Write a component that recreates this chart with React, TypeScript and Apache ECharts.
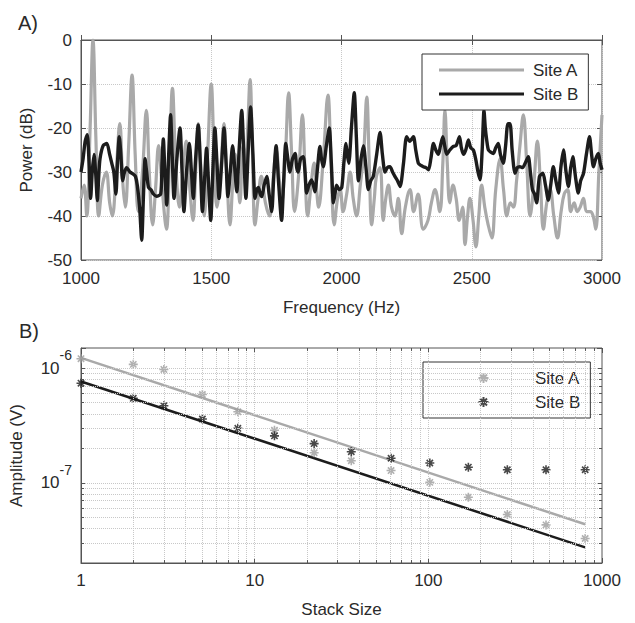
import React, { useEffect, useRef } from 'react';
import * as echarts from 'echarts';

// ---------- Panel A: power spectra ----------
const freqTicks = [1000, 1500, 2000, 2500, 3000];
const powerTicks = [0, -10, -20, -30, -40, -50];

const freqA = [
  1000, 1012, 1022, 1035, 1046, 1057, 1068, 1082, 1097, 1110,
  1120, 1135, 1149, 1160, 1170, 1183, 1196, 1208, 1220, 1236,
  1251, 1262, 1275, 1286, 1298, 1312, 1328, 1340, 1351, 1363,
  1378, 1391, 1404, 1418, 1430, 1440, 1450, 1461, 1473, 1486,
  1500, 1510, 1522, 1536, 1549, 1560, 1572, 1582, 1592, 1602,
  1610, 1622, 1632, 1640, 1649, 1658, 1668, 1680, 1692, 1708,
  1724, 1737, 1750, 1760, 1770, 1784, 1797, 1808, 1820, 1835,
  1850, 1860, 1870, 1883, 1895, 1903, 1912, 1930, 1948, 1960,
  1972, 1985, 1995, 2006, 2020, 2033, 2045, 2058, 2072, 2085,
  2097, 2106, 2116, 2126, 2134, 2148, 2160, 2170, 2180, 2192,
  2205, 2218, 2231, 2245, 2263, 2277, 2294, 2314, 2332, 2345,
  2359, 2377, 2389, 2397, 2406, 2416, 2428, 2440, 2452, 2465,
  2474, 2484, 2493, 2505, 2516, 2527, 2538, 2550, 2563, 2577,
  2592, 2609, 2622, 2635, 2648, 2660, 2672, 2685, 2698, 2711,
  2724, 2738, 2752, 2764, 2775, 2788, 2801, 2815, 2829, 2843,
  2855, 2868, 2880, 2893, 2905, 2916, 2929, 2941, 2955, 2966,
  2976, 2988, 3000,
];
const powerA = [
  -36, -33, -40, -20, 0, -22, -40, -33, -30, -37,
  -40, -30, -19, -32, -38, -24, -8, -26, -39, -30,
  -16, -30, -42, -34, -24, -34, -43, -27, -11, -27,
  -38, -30, -23, -34, -41, -30, -19, -30, -40, -26,
  -10, -24, -38, -30, -19, -31, -42, -33, -26, -32,
  -37, -24, -28, -20, -9, -25, -42, -36, -31, -37,
  -40, -32, -25, -31, -37, -27, -12, -25, -39, -31,
  -17, -30, -40, -33, -28, -33, -38, -27, -12.5, -28,
  -42, -36, -34, -39, -35, -30, -36, -40, -33, -26,
  -13, -27, -42, -36, -31, -29, -41, -36, -33, -38,
  -40, -36, -44, -38, -34, -39, -35, -43, -41, -37,
  -34, -39, -28, -16, -28, -37, -33, -36, -41, -38,
  -46.5, -40, -36, -41, -47, -40, -33, -38, -42, -45,
  -34, -27, -34, -40, -37, -38, -32, -24, -17, -28,
  -40, -33, -23, -33, -43, -37, -34, -40, -45, -39,
  -35, -34, -39, -37, -39, -38, -36, -39, -39, -40,
  -43, -30, -17,
];

const freqB = [
  1000, 1008, 1016, 1024, 1031, 1037, 1043, 1050, 1056, 1063,
  1068, 1073, 1085, 1099, 1110, 1118, 1126, 1134, 1140, 1147,
  1153, 1160, 1167, 1175, 1188, 1201, 1209, 1216, 1225, 1233,
  1240, 1246, 1252, 1259, 1268, 1278, 1290, 1306, 1311, 1316,
  1322, 1329, 1336, 1344, 1350, 1357, 1368, 1380, 1388, 1395,
  1405, 1416, 1424, 1431, 1440, 1450, 1458, 1466, 1474, 1482,
  1490, 1498, 1506, 1514, 1522, 1530, 1540, 1549, 1557, 1564,
  1573, 1582, 1590, 1598, 1607, 1617, 1625, 1633, 1642, 1651,
  1660, 1668, 1675, 1681, 1688, 1694, 1703, 1713, 1722, 1732,
  1740, 1749, 1758, 1770, 1778, 1786, 1794, 1802, 1812, 1822,
  1828, 1834, 1843, 1853, 1860, 1866, 1875, 1885, 1892, 1898,
  1908, 1917, 1923, 1930, 1942, 1953, 1961, 1969, 1975, 1981,
  1991, 2001, 2009, 2017, 2022, 2028, 2038, 2049, 2057, 2065,
  2075, 2084, 2094, 2103, 2112, 2122, 2135, 2148, 2157, 2167,
  2176, 2186, 2196, 2205, 2215, 2225, 2238, 2250, 2262, 2276,
  2285, 2295, 2305, 2314, 2324, 2334, 2343, 2353, 2362, 2372,
  2380, 2389, 2396, 2404, 2416, 2429, 2440, 2453, 2460, 2468,
  2477, 2487, 2496, 2506, 2515, 2524, 2532, 2540, 2547, 2552,
  2558, 2564, 2573, 2583, 2592, 2602, 2610, 2621, 2630, 2639,
  2647, 2655, 2666, 2675, 2685, 2695, 2705, 2717, 2725, 2733,
  2741, 2749, 2760, 2773, 2783, 2794, 2803, 2813, 2823, 2833,
  2842, 2852, 2862, 2871, 2880, 2888, 2898, 2909, 2918, 2929,
  2940, 2952, 2960, 2967, 2976, 2986, 2993, 3000,
];
const powerB = [
  -30, -27, -23, -21.5, -28, -36, -30, -26, -30, -36.5,
  -31, -27, -24, -23.5, -26, -28, -30, -35, -28, -22,
  -26, -32, -30, -29, -30, -30.5, -31, -33, -38, -45.5,
  -35, -27, -30, -33.5, -34, -35, -35.5, -35, -28, -22.5,
  -30, -37.5, -27, -17, -26, -36, -27, -20, -30, -39,
  -30, -23.5, -30, -36, -27, -19.3, -28, -39, -32, -24.6,
  -33, -41, -30, -20, -28, -36, -28, -20, -28, -35.6,
  -30, -24, -29, -34.5, -25, -16, -26, -36, -25, -15.2,
  -26, -36, -34, -33.5, -35, -35.6, -33, -31, -35, -39,
  -31, -24, -32, -41, -32, -23.5, -27, -30, -27, -25.8,
  -29, -30, -27, -26.5, -30, -34.8, -33, -31.8, -33, -34.5,
  -29, -24.2, -27, -28.8, -24, -20, -28, -37, -35, -33,
  -34, -33.5, -28, -23.5, -26, -28, -20, -12, -22, -32,
  -27, -24, -29, -34, -32, -31, -26, -21, -26, -30,
  -29, -28.8, -30, -31, -32, -33.3, -28, -22, -23, -22,
  -25, -28, -28.5, -28.8, -29, -29.5, -27, -23.5, -25, -26,
  -24, -22, -24, -26, -25, -24.2, -24, -22, -24.5, -26,
  -25, -22.7, -24.5, -25, -27, -30, -31.8, -25, -16, -20,
  -23, -25, -25.5, -25.8, -24.5, -23.5, -26, -28, -24, -19,
  -19, -25, -30.3, -29, -28.8, -29, -28, -26.5, -30, -34,
  -35, -37, -31, -30.3, -33, -36.4, -33, -28.8, -32, -34.8,
  -29, -25, -30, -33.3, -29, -26.5, -31, -34.8, -32, -30.3,
  -26, -22, -26, -28.8, -27, -25.8, -28, -29.5,
];

// ---------- Panel B: amplitude vs stack size ----------
const stackSizes = [1, 2, 3, 5, 8, 13, 22, 36, 61, 102, 170, 285, 476, 800];
const ampA = [1.21e-6, 1.08e-6, 9.75e-7, 5.9e-7, 4.17e-7, 2.88e-7, 1.83e-7, 1.56e-7, 1.28e-7, 1.01e-7, 7.5e-8, 5.3e-8, 4.3e-8, 3.27e-8];
const ampB = [7.4e-7, 5.46e-7, 4.7e-7, 3.6e-7, 2.99e-7, 2.57e-7, 2.2e-7, 1.87e-7, 1.64e-7, 1.49e-7, 1.37e-7, 1.3e-7, 1.3e-7, 1.3e-7];
const fitStack = [1, 800];
const fitA = [1.23e-6, 4.35e-8];
const fitB = [7.65e-7, 2.74e-8];
const stackRange = [1, 1000];
const ampRange = [2e-8, 1.5e-6];
const stackGrid = [2, 3, 4, 5, 6, 7, 8, 9, 10, 20, 30, 40, 50, 60, 70, 80, 90, 100, 200, 300, 400, 500, 600, 700, 800, 900];
const ampGrid = [3e-8, 4e-8, 5e-8, 6e-8, 7e-8, 8e-8, 9e-8, 1e-7, 2e-7, 3e-7, 4e-7, 5e-7, 6e-7, 7e-7, 8e-7, 9e-7, 1e-6];

const FONT = '"Liberation Sans", Arial, Helvetica, sans-serif';
const TXT = '#2a2a2a';
const FRAME = '#555555';
const GRID = '#c8c8c8';
const GRAY = '#a9a9a9';
const BLACK = '#1c1c1c';
const ASTERISK = 'path://M5,0L5,10M0,5L10,5M1.5,1.5L8.5,8.5M8.5,1.5L1.5,8.5';
// legend version: same asterisk centred in an 85x10 box
const ASTERISK_WIDE = 'path://M0,5L0.01,5M42.5,0L42.5,10M37.5,5L47.5,5M39,1.5L46,8.5M46,1.5L39,8.5M85,5L85.01,5';

function frameAxis(extra: any) {
  return {
    axisLine: { show: true, lineStyle: { color: FRAME, width: 1 } },
    axisTick: { show: true, inside: true, length: 5, lineStyle: { color: FRAME } },
    ...extra,
  };
}

function optionA(): any {
  return {
    animation: false,
    textStyle: { fontFamily: FONT },
    title: { text: 'A)', left: 13, top: 8, textStyle: { fontSize: 20, fontWeight: 'normal', color: TXT, fontFamily: FONT } },
    grid: { left: 81, top: 40, width: 521, height: 220, show: true, borderColor: FRAME, borderWidth: 1, backgroundColor: '#fff' },
    legend: {
      orient: 'vertical', left: 422, top: 54, data: ['Site A', 'Site B'], icon: 'rect',
      itemWidth: 85, itemHeight: 3, itemGap: 6, padding: [7, 10, 7, 17],
      backgroundColor: '#fff', borderColor: '#333', borderWidth: 1,
      textStyle: { fontSize: 17, color: TXT, fontFamily: FONT, lineHeight: 18, padding: [0, 0, 0, 4] },
    },
    xAxis: [
      frameAxis({
        type: 'value', min: freqTicks[0], max: freqTicks[freqTicks.length - 1], interval: 500,
        name: 'Frequency (Hz)', nameLocation: 'middle', nameGap: 39,
        nameTextStyle: { fontSize: 17, color: TXT, fontFamily: FONT },
        axisLabel: { fontSize: 17, color: TXT, margin: 10, fontFamily: FONT, formatter: (v: number) => String(v) },
        splitLine: { show: true, lineStyle: { type: 'dotted', color: GRID } },
      }),
      frameAxis({
        type: 'value', position: 'top', min: freqTicks[0], max: freqTicks[freqTicks.length - 1], interval: 500,
        axisLine: { show: false }, axisLabel: { show: false }, splitLine: { show: false },
      }),
    ],
    yAxis: [
      frameAxis({
        type: 'value', min: powerTicks[powerTicks.length - 1], max: powerTicks[0], interval: 10,
        name: 'Power (dB)', nameLocation: 'middle', nameGap: 46,
        nameTextStyle: { fontSize: 17, color: TXT, fontFamily: FONT },
        axisLabel: { fontSize: 17, color: TXT, margin: 9, fontFamily: FONT },
        splitLine: { show: true, lineStyle: { type: 'dotted', color: GRID } },
      }),
      frameAxis({
        type: 'value', position: 'right', min: powerTicks[powerTicks.length - 1], max: powerTicks[0], interval: 10,
        axisLine: { show: false }, axisLabel: { show: false }, splitLine: { show: false },
      }),
    ],
    series: [
      {
        name: 'Site A', type: 'line', symbol: 'none', smooth: 0.4, z: 2,
        data: freqA.map((f, i) => [f, powerA[i]]),
        lineStyle: { color: GRAY, width: 3.2 }, itemStyle: { color: GRAY },
      },
      {
        name: 'Site B', type: 'line', symbol: 'none', smooth: 0.25, z: 3,
        data: freqB.map((f, i) => [f, powerB[i]]),
        lineStyle: { color: BLACK, width: 3.4 }, itemStyle: { color: BLACK },
      },
    ],
  };
}

function optionB(): any {
  const supLabel = (v: number) => {
    const l = Math.log10(v);
    const r = Math.round(l);
    if (Math.abs(l - r) > 1e-3) return '';
    return `{b|10}{s|${r}}`;
  };
  const gridLines = [
    ...stackGrid.map((x) => [{ coord: [x, ampRange[0]] }, { coord: [x, ampRange[1]] }]),
    ...ampGrid.map((y) => [{ coord: [stackRange[0], y] }, { coord: [stackRange[1], y] }]),
  ];
  // minor tick marks (3 px long) on all four sides of the log-log box
  const pxPerDecadeY = 220 / Math.log10(ampRange[1] / ampRange[0]);
  const pxPerDecadeX = 521 / Math.log10(stackRange[1] / stackRange[0]);
  const fy = Math.pow(10, 3 / pxPerDecadeY);
  const fx = Math.pow(10, 3 / pxPerDecadeX);
  const minorTicks = [
    ...stackGrid.flatMap((x) => [
      [{ coord: [x, ampRange[0]] }, { coord: [x, ampRange[0] * fy] }],
      [{ coord: [x, ampRange[1]] }, { coord: [x, ampRange[1] / fy] }],
    ]),
    ...ampGrid.flatMap((y) => [
      [{ coord: [stackRange[0], y] }, { coord: [stackRange[0] * fx, y] }],
      [{ coord: [stackRange[1], y] }, { coord: [stackRange[1] / fx, y] }],
    ]),
  ];
  return {
    animation: false,
    textStyle: { fontFamily: FONT },
    title: { text: 'B)', left: 14, top: 16, textStyle: { fontSize: 20, fontWeight: 'normal', color: TXT, fontFamily: FONT } },
    grid: { left: 81, top: 48, width: 521, height: 220, show: true, borderColor: FRAME, borderWidth: 1, backgroundColor: '#fff' },
    legend: {
      orient: 'vertical', left: 423, top: 62,
      data: [{ name: 'Site A', icon: ASTERISK_WIDE }, { name: 'Site B', icon: ASTERISK_WIDE }],
      itemWidth: 85, itemHeight: 10, itemGap: 6, padding: [7, 10, 7, 17],
      backgroundColor: '#fff', borderColor: '#333', borderWidth: 1,
      textStyle: { fontSize: 17, color: TXT, fontFamily: FONT, lineHeight: 18, padding: [0, 0, 0, 4] },
    },
    xAxis: [
      frameAxis({
        type: 'log', logBase: 10, min: stackRange[0], max: stackRange[1],
        name: 'Stack Size', nameLocation: 'middle', nameGap: 38,
        nameTextStyle: { fontSize: 17, color: TXT, fontFamily: FONT },
        axisLabel: { fontSize: 17, color: TXT, margin: 9, fontFamily: FONT, formatter: (v: number) => String(Math.round(v)) },
        splitLine: { show: false },
      }),
      frameAxis({
        type: 'log', logBase: 10, min: stackRange[0], max: stackRange[1], position: 'top',
        axisLine: { show: false }, axisLabel: { show: false }, splitLine: { show: false },
      }),
    ],
    yAxis: [
      frameAxis({
        type: 'log', logBase: 10, min: ampRange[0], max: ampRange[1],
        name: 'Amplitude (V)', nameLocation: 'middle', nameGap: 56,
        nameTextStyle: { fontSize: 17, color: TXT, fontFamily: FONT },
        axisLabel: {
          margin: 9, formatter: supLabel,
          rich: {
            b: { fontSize: 17, color: TXT, fontFamily: FONT },
            s: { fontSize: 14, color: TXT, fontFamily: FONT, padding: [0, 0, 26, 0] },
          },
        },
        splitLine: { show: false },
      }),
      frameAxis({
        type: 'log', logBase: 10, min: ampRange[0], max: ampRange[1], position: 'right',
        axisLine: { show: false }, axisLabel: { show: false }, splitLine: { show: false },
      }),
    ],
    series: [
      {
        name: 'grid', type: 'line', symbol: 'none', z: 1, silent: true,
        data: [[fitStack[0], fitB[0]]],
        lineStyle: { opacity: 0 },
        markLine: {
          silent: true, symbol: ['none', 'none'], label: { show: false }, animation: false,
          lineStyle: { type: 'dotted', color: GRID, width: 1 },
          emphasis: { disabled: true },
          data: gridLines,
        },
      },
      {
        name: 'minor ticks', type: 'line', symbol: 'none', z: 4, silent: true,
        data: [[fitStack[0], fitB[0]]],
        lineStyle: { opacity: 0 },
        markLine: {
          silent: true, symbol: ['none', 'none'], label: { show: false }, animation: false,
          lineStyle: { type: 'solid', color: FRAME, width: 1 },
          emphasis: { disabled: true },
          data: minorTicks,
        },
      },
      {
        name: 'fit A', type: 'line', symbol: 'none', z: 2,
        data: fitStack.map((x, i) => [x, fitA[i]]),
        lineStyle: { color: GRAY, width: 2.5 },
      },
      {
        name: 'fit B', type: 'line', symbol: 'none', z: 2,
        data: fitStack.map((x, i) => [x, fitB[i]]),
        lineStyle: { color: BLACK, width: 2.5 },
      },
      {
        name: 'Site A', type: 'scatter', symbol: ASTERISK, symbolSize: 9, z: 3,
        data: stackSizes.map((x, i) => [x, ampA[i]]),
        itemStyle: { color: '#9c9c9c', borderColor: '#9c9c9c', borderWidth: 1.6 },
      },
      {
        name: 'Site B', type: 'scatter', symbol: ASTERISK, symbolSize: 9, z: 3,
        data: stackSizes.map((x, i) => [x, ampB[i]]),
        itemStyle: { color: '#1a1a1a', borderColor: '#1a1a1a', borderWidth: 1.6 },
      },
    ],
  };
}

export default function App() {
  const refA = useRef<HTMLDivElement>(null);
  const refB = useRef<HTMLDivElement>(null);

  useEffect(() => {
    const prevMargin = document.body.style.margin;
    document.body.style.margin = '0';
    const a = echarts.init(refA.current!, null, { renderer: 'svg' });
    const b = echarts.init(refB.current!, null, { renderer: 'svg' });
    a.setOption(optionA());
    b.setOption(optionB());
    return () => {
      a.dispose();
      b.dispose();
      document.body.style.margin = prevMargin;
    };
  }, []);

  return (
    <div style={{ position: 'absolute', left: 0, top: 0, width: 635, height: 623, background: '#fff', overflow: 'hidden' }}>
      <div ref={refA} style={{ position: 'absolute', left: 0, top: 0, width: 635, height: 330 }} />
      <div ref={refB} style={{ position: 'absolute', left: 0, top: 300, width: 635, height: 323 }} />
    </div>
  );
}
